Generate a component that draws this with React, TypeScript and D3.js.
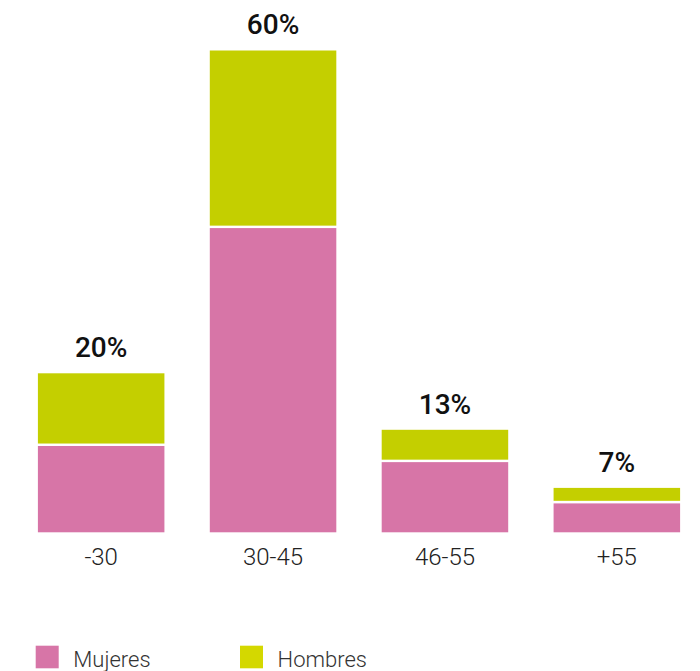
import React, { useRef, useEffect } from "react";
import * as d3 from "d3";

const categories = ["-30", "30-45", "46-55", "+55"];
const mujeres = [11, 38, 9, 3.9];
const hombres = [9, 22, 4, 1.9];
const totalLabels = ["20%", "60%", "13%", "7%"];
const seriesNames = ["Mujeres", "Hombres"];

const colors = { Mujeres: "#D775A7", Hombres: "#C4CF00" };
const legendColors = { Mujeres: "#D775A7", Hombres: "#D4D800" };

const App: React.FC = () => {
  const svgRef = useRef<SVGSVGElement>(null);

  const width = 700;
  const height = 671;

  useEffect(() => {
    if (!svgRef.current) return;
    const svg = d3.select(svgRef.current);
    svg.selectAll("*").remove();

    const table = categories.map((c, i) => ({
      category: c,
      Mujeres: mujeres[i],
      Hombres: hombres[i],
      label: totalLabels[i],
    }));

    const xScale = d3
      .scaleBand<string>()
      .domain(categories)
      .range([36.7, 681.3])
      .paddingInner(0.25)
      .paddingOuter(0);

    const yScale = d3.scaleLinear().domain([0, 60]).range([533.5, 49.3]);

    const stack = d3.stack<any>().keys(seriesNames);
    const series = stack(table);

    // stacked bars, white stroke gives the gap between segments
    svg
      .append("g")
      .selectAll("g")
      .data(series)
      .enter()
      .append("g")
      .attr("fill", (s) => (colors as any)[s.key])
      .selectAll("rect")
      .data((s) => s)
      .enter()
      .append("rect")
      .attr("x", (d) => xScale(d.data.category)!)
      .attr("width", xScale.bandwidth())
      .attr("y", (d) => yScale(d[1]))
      .attr("height", (d) => yScale(d[0]) - yScale(d[1]))
      .attr("stroke", "#fff")
      .attr("stroke-width", 2.4);

    // total labels above bars
    svg
      .append("g")
      .selectAll("text")
      .data(table)
      .enter()
      .append("text")
      .attr("x", (d) => xScale(d.category)! + xScale.bandwidth() / 2)
      .attr("y", (d) => yScale(d.Mujeres + d.Hombres) - 15)
      .attr("text-anchor", "middle")
      .attr("font-family", "Roboto, sans-serif")
      .attr("font-weight", 500)
      .attr("font-size", 28)
      .attr("fill", "#111")
      .text((d) => d.label);

    // category axis labels
    const xAxis = svg
      .append("g")
      .attr("transform", `translate(0,${yScale(0)})`)
      .call(d3.axisBottom(xScale).tickSize(0).tickPadding(31));
    xAxis.select(".domain").remove();
    xAxis
      .selectAll("text")
      .attr("font-family", "Roboto, sans-serif")
      .attr("font-size", 24)
      .attr("font-weight", 300)
      .attr("fill", "#222")
      .attr("dy", "0");

    // legend
    const legend = svg
      .append("g")
      .selectAll("g")
      .data(seriesNames)
      .enter()
      .append("g")
      .attr("transform", (d, i) => `translate(${35.7 + i * 204.3},645.7)`);
    legend
      .append("rect")
      .attr("width", 23)
      .attr("height", 22.6)
      .attr("fill", (d) => (legendColors as any)[d]);
    legend
      .append("text")
      .attr("x", 37.6)
      .attr("y", 21)
      .attr("font-family", "Roboto, sans-serif")
      .attr("font-size", 22)
      .attr("font-weight", 300)
      .attr("fill", "#333")
      .text((d) => d);
  }, []);

  return (
    <svg
      ref={svgRef}
      width={width}
      height={height}
      style={{ position: "absolute", left: 0, top: 0, background: "#fff" }}
    ></svg>
  );
};

export default App;
